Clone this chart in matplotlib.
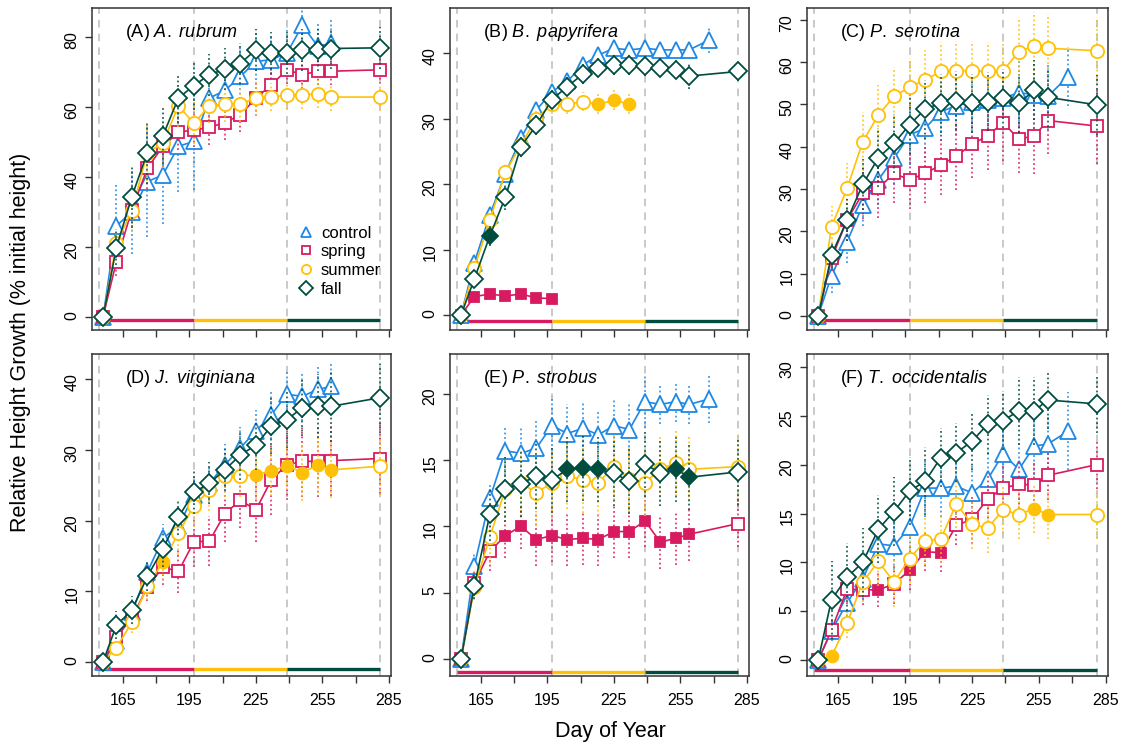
import numpy as np
import matplotlib
matplotlib.use('Agg')
import matplotlib.pyplot as plt
from matplotlib.lines import Line2D

plt.rcParams['font.family'] = ['Liberation Sans', 'DejaVu Sans']
plt.rcParams['mathtext.fontset'] = 'custom'
plt.rcParams['mathtext.rm'] = 'Liberation Sans'
plt.rcParams['mathtext.it'] = 'Liberation Sans:italic'

nan = np.nan

# sampling days (day of year)
days = [156, 162, 169, 176, 183, 190, 197, 204, 211, 218, 225, 232, 239, 246, 253, 259, 268, 281]
season_bounds = [154, 197, 239, 281]
treatments = ['control', 'spring', 'summer', 'fall']
colors = ['#1E88E5', '#D81B60', '#FFC107', '#004D40']
markers = ['^', 's', 'o', 'D']

# (A) A. rubrum
a_control = [0, 26, 30, 38.7, 40.6, 48.8, 50.2, 62.6, 64.8, 68.8, 73.1, 73.6, 75.5, 83.4, 77.4, 78.4, nan, nan]
a_control_err = [0, 12, 12, 16, 14, 13, 14, 9, 9, 9, 8, 7, 7, 8, 7, 7, nan, nan]
a_spring = [0, 15.8, 30.6, 42.5, 48.8, 52.8, 53.5, 54.2, 55.6, 57.8, 62.6, 66.4, 70.7, 69.3, 70.3, 70.3, nan, 70.7]
a_spring_err = [0, 4, 5, 6, 6, 5, 5, 5, 5, 5, 5, 5, 4, 4, 4, 4, nan, 4]
a_summer = [0, 21, 30.3, 47, 49.7, 60.4, 55.4, 60.4, 60.9, 60.9, 62.6, 62.9, 63.4, 63.6, 63.8, 62.9, nan, 62.9]
a_summer_err = [0, 4, 6, 8, 7, 6, 6, 5, 5, 5, 5, 4, 4, 4, 4, 4, nan, 4]
a_fall = [0, 19.8, 34.4, 47, 51.8, 62.6, 66.2, 69.3, 70.9, 72.5, 76.5, 75.5, 75.5, 76.3, 76.3, 76.8, nan, 77]
a_fall_err = [0, 5, 9, 9, 8, 7, 7, 6, 6, 6, 6, 6, 6, 6, 6, 6, nan, 6]

# (B) B. papyrifera
b_control = [0, 8, 15.3, 21.6, 27, 31.3, 34.1, 35.7, 38.2, 39.7, 40.75, 40.5, 40.75, 40.5, 40.5, 40.5, 42, nan]
b_control_err = [0, 1, 1, 1, 1, 1, 1, 1, 1, 1, 1, 1, 1, 1, 1, 1.2, 2, nan]
b_spring = [0, 2.8, 3.2, 2.9, 3.2, 2.6, 2.5, nan, nan, nan, nan, nan, nan, nan, nan, nan, nan, nan]
b_spring_err = [0, 0.5, 0.5, 0.5, 0.5, 0.5, 0.5, nan, nan, nan, nan, nan, nan, nan, nan, nan, nan, nan]
b_summer = [0, 7.1, 14.5, 21.8, 26, 30, 32.2, 32.2, 32.6, 32.2, 32.8, 32.2, nan, nan, nan, nan, nan, nan]
b_summer_err = [0, 1, 1, 1.2, 1, 1.2, 1.5, 1.5, 1.5, 1.5, 1.5, 1.5, nan, nan, nan, nan, nan, nan]
b_fall = [0, 5.5, 12.1, 18, 25.7, 29, 32.9, 34.9, 36.8, 37.8, 38.2, 38.2, 38, 37.8, 37.5, 36.5, nan, 37.2]
b_fall_err = [0, 1, 1.5, 2, 1.5, 1.5, 1.5, 1.5, 1.5, 1.5, 1.5, 1.5, 1.5, 1.5, 1.5, 2, nan, 1.5]

# (C) P. serotina
c_control = [0, 9.5, 17.6, 26.2, 32.2, 37.3, 42.8, 44.4, 48.3, 49.7, 50.7, 51.1, 51.5, 52.8, 52.3, 51.9, 56.6, nan]
c_control_err = [0, 4, 5, 5, 6, 6, 7, 7, 7, 7, 7, 7, 7, 8, 8, 8, 7, nan]
c_spring = [0, 13.6, 22.7, 29, 30.2, 33.7, 32.2, 33.7, 35.7, 37.8, 40.6, 42.6, 45.7, 41.8, 42.6, 46.2, nan, 44.9]
c_spring_err = [0, 3, 5, 6, 7, 7, 7, 7, 7, 8, 8, 8, 9, 8, 9, 8, nan, 9]
c_summer = [0, 21.1, 30.2, 41.2, 47.5, 51.9, 54.1, 55.8, 57.8, 58, 58, 57.8, 58, 62.5, 63.9, 63.3, nan, 62.7]
c_summer_err = [0, 5, 6, 7, 7, 7, 7, 7, 7, 7, 7, 7, 7, 8, 8, 8, nan, 8]
c_fall = [0, 14.4, 22.7, 31.1, 37.4, 40.8, 45.2, 48.9, 50.3, 50.9, 50.3, 50.7, 51.5, 50.3, 53.4, 51.7, nan, 49.9]
c_fall_err = [0, 3, 5, 6, 7, 7, 7, 7, 7, 7, 7, 7, 7, 7, 7, 7, nan, 7]

# (D) J. virginiana
d_control = [0, 3, 7, 12.7, 17.5, 19.2, 23.6, 25.3, 27.9, 30.3, 32.7, 35, 37.9, 37.6, 38.6, 39, nan, nan]
d_control_err = [0, 1, 1.5, 1.5, 2, 2, 2.5, 2.5, 3, 3, 3, 3.5, 3.5, 3.5, 3.5, 3.5, nan, nan]
d_spring = [0, 3.5, 6.2, 10.6, 13.4, 12.8, 17, 17.1, 21, 22.9, 21.5, 25.8, 27.9, 28.4, 28.4, 28.5, nan, 28.8]
d_spring_err = [0, 1, 1.5, 2, 2.5, 3, 3.5, 3.5, 4, 4, 4.5, 5, 5, 5, 5, 5, nan, 5]
d_summer = [0, 2, 5.6, 10.8, 14.1, 18.2, 22.1, 24.3, 26.3, 26.3, 26.5, 27, 27.8, 26.8, 27.9, 27.2, nan, 27.7]
d_summer_err = [0, 1, 1.5, 2, 2.5, 3, 3, 3, 3, 3, 3.5, 3.5, 3.5, 4, 4, 4, nan, 4]
d_fall = [0, 5.2, 7.3, 12.1, 16, 20.5, 24, 25.3, 27.2, 29.3, 30.7, 33.4, 34.3, 36, 36.2, 36.2, nan, 37.4]
d_fall_err = [0, 2, 2, 2, 2.5, 2.5, 3, 3, 3, 3.5, 3.5, 4, 4, 4, 4.5, 5, nan, 5]

# (E) P. strobus
e_control = [0, 7, 12.1, 15.7, 15.5, 15.9, 17.6, 17, 17.4, 16.9, 17.6, 17.3, 19.4, 19.2, 19.4, 19.2, 19.6, nan]
e_control_err = [0, 1, 1.2, 1.8, 2, 2.2, 2.2, 2.2, 2, 1.8, 2, 2, 2, 1.5, 1.5, 1.5, 1.8, nan]
e_spring = [0, 5.7, 8.1, 9.3, 10, 9, 9.3, 9, 9.1, 9, 9.6, 9.6, 10.4, 8.8, 9.1, 9.4, nan, 10.2]
e_spring_err = [0, 1, 1.5, 1.7, 1.7, 2, 2, 2, 2, 2, 2, 2, 2, 2, 2, 2, nan, 1.8]
e_summer = [0, 5.4, 9.2, 12.8, 13.3, 12.5, 13.3, 13.8, 13.5, 13.3, 14.5, 13.6, 13.3, 14.3, 14.8, 14.3, nan, 14.5]
e_summer_err = [0, 1, 2, 2.5, 2.5, 2.5, 2.5, 2.5, 2.5, 2.5, 2.5, 2.5, 2.5, 2.5, 2.5, 2.5, nan, 2.5]
e_fall = [0, 5.5, 10.9, 12.8, 13.2, 13.8, 13.5, 14.3, 14.4, 14.3, 14, 13.4, 14.7, 14, 14.3, 13.7, nan, 14.1]
e_fall_err = [0, 1, 2, 2.5, 2.5, 2.5, 2.5, 2.5, 2.5, 2.5, 2.5, 2.5, 2.5, 2.5, 2.5, 2.5, nan, 2.5]

# (F) T. occidentalis
f_control = [0, 3, 5.9, 8.3, 11.9, 11.7, 13.6, 17.6, 17.6, 17.8, 17.1, 18.5, 21.1, 19.5, 21.9, 22.1, 23.4, nan]
f_control_err = [0, 1, 1.5, 2, 2, 2.5, 3, 3, 3, 3, 3, 3, 3, 3, 3, 3, 4, nan]
f_spring = [0, 3.1, 7.3, 7.2, 7.2, 7.8, 9.2, 11.1, 11, 13.8, 14.4, 16.5, 17.6, 18, 17.9, 18.9, nan, 20]
f_spring_err = [0, 1, 1.5, 1.5, 1.7, 2, 2, 2, 2, 2, 2.5, 2.5, 2.5, 2.5, 2.5, 2.5, nan, 2.5]
f_summer = [0, 0.4, 3.8, 8, 10.1, 8, 10.4, 12.2, 12.4, 16, 13.9, 13.5, 15.4, 14.9, 15.5, 14.9, nan, 14.9]
f_summer_err = [0, 0.5, 1.5, 2, 2.5, 2.5, 2.5, 2.5, 2.5, 2.5, 2.5, 2.5, 2.5, 2.5, 2.5, 2.5, nan, 2.5]
f_fall = [0, 6.2, 8.5, 10, 13.4, 15.2, 17.3, 18.3, 20.7, 21.2, 22.4, 24.1, 24.5, 25.5, 25.5, 26.6, nan, 26.2]
f_fall_err = [0, 4, 3.5, 3.5, 3.5, 3.5, 3.5, 3.5, 3, 3, 3, 3, 3, 3.5, 3.5, 3, nan, 3]

# indices of filled (solid) symbols
b_spring_filled = [0, 1, 2, 3, 4, 5, 6]
b_summer_filled = [9, 10, 11]
b_fall_filled = [2]
d_summer_filled = [4, 10, 11, 12, 13, 14, 15]
e_spring_filled = [3, 4, 5, 6, 7, 8, 9, 10, 11, 12, 13, 14, 15]
e_fall_filled = [7, 8, 9, 14, 15]
f_spring_filled = [4, 6, 7, 8]
f_summer_filled = [1, 14, 15]

panels = [
    ('A', 'A.\\ rubrum', [a_control, a_spring, a_summer, a_fall],
     [a_control_err, a_spring_err, a_summer_err, a_fall_err],
     [[], [], [], []], (-3.8, 88.4), [0, 20, 40, 60, 80]),
    ('B', 'B.\\ papyrifera', [b_control, b_spring, b_summer, b_fall],
     [b_control_err, b_spring_err, b_summer_err, b_fall_err],
     [[], b_spring_filled, b_summer_filled, b_fall_filled], (-2.3, 46.9), [0, 10, 20, 30, 40]),
    ('C', 'P.\\ serotina', [c_control, c_spring, c_summer, c_fall],
     [c_control_err, c_spring_err, c_summer_err, c_fall_err],
     [[], [], [], []], (-3.3, 72.8), [0, 10, 20, 30, 40, 50, 60, 70]),
    ('D', 'J.\\ virginiana', [d_control, d_spring, d_summer, d_fall],
     [d_control_err, d_spring_err, d_summer_err, d_fall_err],
     [[], [], d_summer_filled, []], (-2.0, 43.6), [0, 10, 20, 30, 40]),
    ('E', 'P.\\ strobus', [e_control, e_spring, e_summer, e_fall],
     [e_control_err, e_spring_err, e_summer_err, e_fall_err],
     [[], e_spring_filled, [], e_fall_filled], (-1.3, 23.0), [0, 5, 10, 15, 20]),
    ('F', 'T.\\ occidentalis', [f_control, f_spring, f_summer, f_fall],
     [f_control_err, f_spring_err, f_summer_err, f_fall_err],
     [[], f_spring_filled, f_summer_filled, []], (-1.6, 31.3), [0, 5, 10, 15, 20, 25, 30]),
]

W, H = 1121, 748
fig = plt.figure(figsize=(W / 100, H / 100), dpi=100)
boxes = [(92, 8, 391, 330), (450, 8, 749, 330), (807, 8, 1108, 330),
         (92, 354, 391, 676), (450, 354, 749, 676), (807, 354, 1108, 676)]

msize = {'^': 11, 's': 8.5, 'o': 9.5, 'D': 9.5}
x = np.array(days, dtype=float)

for i, (letter, species, series, errs, filled, ylim, yticks) in enumerate(panels):
    l, t, r, b = boxes[i]
    ax = fig.add_axes([l / W, 1 - b / H, (r - l) / W, (b - t) / H])
    for d in season_bounds:
        ax.axvline(d, color='#BBBBBB', ls=(0, (5, 4)), lw=1.1, zorder=0)
    for k in range(3):
        ax.plot(season_bounds[k:k + 2], [-1, -1], color=colors[k + 1], lw=2.4,
                solid_capstyle='butt', zorder=1)
    for j in range(4):
        y = np.array(series[j], dtype=float)
        e = np.array(errs[j], dtype=float)
        ok = ~np.isnan(y)
        c = colors[j]
        ax.vlines(x[ok], y[ok] - e[ok], y[ok] + e[ok], colors=c, linestyles=(0, (1, 1.5)),
                  lw=1.3, alpha=0.85, zorder=2 + j)
        ax.plot(x[ok], y[ok], color=c, lw=1.2, zorder=3 + j)
        fill = np.zeros(len(y), dtype=bool)
        fill[filled[j]] = True
        o = ok & ~fill
        ax.plot(x[o], y[o], ls='none', marker=markers[j], ms=msize[markers[j]],
                mfc='white', mec=c, mew=1.3, zorder=3 + j)
        f = ok & fill
        if f.any():
            ax.plot(x[f], y[f], ls='none', marker=markers[j], ms=msize[markers[j]] * 0.9,
                    mfc=c, mec=c, mew=1.3, zorder=3 + j)
    ax.set_xlim(151, 286)
    ax.set_ylim(*ylim)
    ax.set_xticks(range(165, 286, 15))
    if i >= 3:
        ax.set_xticklabels([str(v) if (v - 165) % 30 == 0 else '' for v in range(165, 286, 15)])
    else:
        ax.set_xticklabels([])
    ax.set_yticks(yticks)
    ax.tick_params(axis='both', labelsize=11.5, length=5, width=1, color='#333333', pad=4)
    ax.tick_params(axis='y', labelrotation=90)
    ax.tick_params(axis='x', pad=7)
    for s in ax.spines.values():
        s.set_color('#333333')
        s.set_linewidth(1.1)
    ax.text(0.11, 0.925, '(%s) $\\mathit{%s}$' % (letter, species), transform=ax.transAxes,
            fontsize=13, ha='left', va='center')
    if i == 0:
        handles = [Line2D([], [], ls='none', marker=markers[j], ms=msize[markers[j]] * 0.7,
                          mfc='white', mec=colors[j], mew=1.3) for j in range(4)]
        ax.legend(handles, treatments, loc='upper left', bbox_to_anchor=(0.66, 0.345),
                  frameon=False, fontsize=12, handletextpad=0.3, labelspacing=0.22,
                  handlelength=1.2, borderaxespad=0)

fig.text(0.018, 1 - 342 / H, 'Relative Height Growth (% initial height)', rotation=90,
         ha='center', va='center', fontsize=15.5)
fig.text(610 / W, 1 - 732 / H, 'Day of Year', ha='center', va='center', fontsize=15.5)

fig.savefig('out.png', dpi=100)
